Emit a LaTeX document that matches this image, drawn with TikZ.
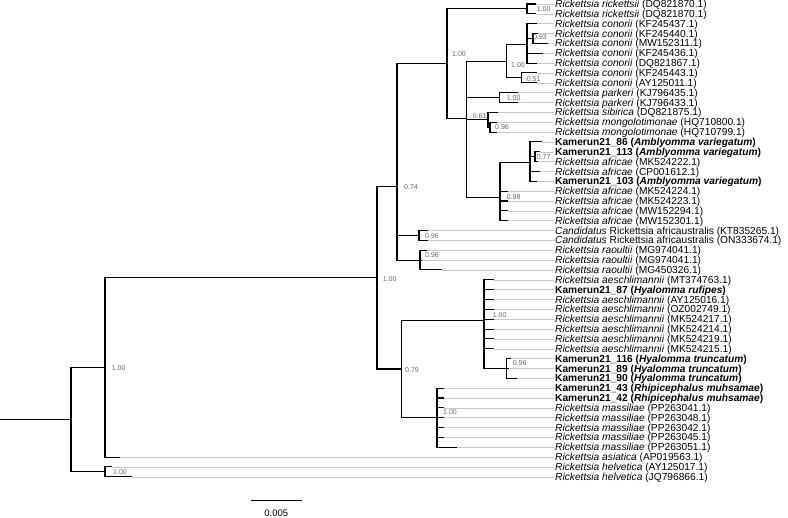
\documentclass[tikz,border=0pt]{standalone}
\usepackage{fontspec}
\setmainfont{Liberation Sans}
\usetikzlibrary{positioning}

\newcommand{\rick}[2]{\textit{Rickettsia #1} (#2)}
\newcommand{\kam}[2]{\textbf{Kamerun21\_#1 (\textit{#2})}}

\begin{document}
\begin{tikzpicture}[
  x=1pt, y=-1pt,
  branch/.style={draw=black, line width=1.05pt},
  leader/.style={draw=black!22, line width=0.4pt, shorten >=1.5pt},
  taxon/.style={anchor=base west, inner sep=0pt, font=\fontsize{10.2}{11}\selectfont},
  support/.style={anchor=west, inner sep=0pt, text=black!60, font=\fontsize{7}{8}\selectfont}
]
  \useasboundingbox (0,0) rectangle (788,518);

  % tips and taxon names
  \foreach \tx/\lab [count=\i] in {
    536/{\rick{rickettsii}{DQ821870.1}},
    536/{\rick{rickettsii}{DQ821870.1}},
    537/{\rick{conorii}{KF245437.1}},
    538/{\rick{conorii}{KF245440.1}},
    548/{\rick{conorii}{MW152311.1}},
    543/{\rick{conorii}{KF245436.1}},
    537/{\rick{conorii}{DQ821867.1}},
    537/{\rick{conorii}{KF245443.1}},
    537/{\rick{conorii}{AY125011.1}},
    518/{\rick{parkeri}{KJ796435.1}},
    518/{\rick{parkeri}{KJ796433.1}},
    498/{\rick{sibirica}{DQ821875.1}},
    497/{\rick{mongolotimonae}{HQ710800.1}},
    497/{\rick{mongolotimonae}{HQ710799.1}},
    542/{\kam{86}{Amblyomma variegatum}},
    540/{\kam{113}{Amblyomma variegatum}},
    538/{\rick{africae}{MK524222.1}},
    540/{\rick{africae}{CP001612.1}},
    537/{\kam{103}{Amblyomma variegatum}},
    508/{\rick{africae}{MK524224.1}},
    508/{\rick{africae}{MK524223.1}},
    508/{\rick{africae}{MW152294.1}},
    508/{\rick{africae}{MW152301.1}},
    428/{\textit{Candidatus} Rickettsia africaustralis (KT835265.1)},
    428/{\textit{Candidatus} Rickettsia africaustralis (ON333674.1)},
    427/{\rick{raoultii}{MG974041.1}},
    422/{\rick{raoultii}{MG974041.1}},
    442/{\rick{raoultii}{MG450326.1}},
    494/{\rick{aeschlimannii}{MT374763.1}},
    494/{\kam{87}{Hyalomma rufipes}},
    494/{\rick{aeschlimannii}{AY125016.1}},
    494/{\rick{aeschlimannii}{OZ002749.1}},
    494/{\rick{aeschlimannii}{MK524217.1}},
    494/{\rick{aeschlimannii}{MK524214.1}},
    494/{\rick{aeschlimannii}{MK524219.1}},
    494/{\rick{aeschlimannii}{MK524215.1}},
    511/{\kam{116}{Hyalomma truncatum}},
    509/{\kam{89}{Hyalomma truncatum}},
    517/{\kam{90}{Hyalomma truncatum}},
    444/{\kam{43}{Rhipicephalus muhsamae}},
    444/{\kam{42}{Rhipicephalus muhsamae}},
    444/{\rick{massiliae}{PP263041.1}},
    444/{\rick{massiliae}{PP263048.1}},
    444/{\rick{massiliae}{PP263042.1}},
    444/{\rick{massiliae}{PP263045.1}},
    457/{\rick{massiliae}{PP263051.1}},
    120/{\rick{asiatica}{AP019563.1}},
    112/{\rick{helvetica}{AY125017.1}},
    132/{\rick{helvetica}{JQ796866.1}}%
  }{
    \coordinate (tip\i) at (\tx, {4+(\i-1)*9.85});
    \node[taxon] (lab\i) at (555, {7.6+(\i-1)*9.85}) {\lab};
    \draw[leader] (tip\i) -- (tip\i -| lab\i.west);
  }

  % internal nodes
  \coordinate (rk) at (527, 8.93);
  \coordinate (c45) at (533, 38.48);
  \coordinate (cp) at (527, 44.63);
  \coordinate (cq) at (521.7, 77.88);
  \coordinate (co) at (506.7, 61.26);
  \coordinate (pk) at (499.3, 97.58);
  \coordinate (mg) at (490, 127.13);
  \coordinate (sm) at (488, 119.74);
  \coordinate (ks) at (535, 156.68);
  \coordinate (kk) at (530, 162.83);
  \coordinate (af) at (500, 197.31);
  \coordinate (sfg) at (466.7, 118.97);
  \coordinate (n1) at (447, 63.95);
  \coordinate (ca) at (419, 235.48);
  \coordinate (ra) at (420, 260.10);
  \coordinate (c) at (397, 186.51);
  \coordinate (tt) at (506.7, 368.45);
  \coordinate (e) at (484, 320.29);
  \coordinate (m) at (437, 417.70);
  \coordinate (d) at (401.5, 369.0);
  \coordinate (b) at (377, 277.75);
  \coordinate (a) at (105, 367.43);
  \coordinate (h) at (105, 471.88);
  \coordinate (rt) at (71, 419.65);
  \coordinate (stub) at (0, 419.65);

  % branches
  \draw[branch] (stub) -- (rt);
  \draw[branch] (rt) |- (a) (rt) |- (h);
  \draw[branch] (h) |- (tip48) (h) |- (tip49);
  \draw[branch] (a) |- (b) (a) |- (tip47);
  \draw[branch] (b) |- (c) (b) |- (d);
  \draw[branch] (c) |- (n1) (c) |- (ca) (c) |- (ra);
  \draw[branch] (n1) |- (rk) (n1) |- (sfg);
  \draw[branch] (rk) |- (tip1) (rk) |- (tip2);
  \draw[branch] (sfg) |- (co) (sfg) |- (pk) (sfg) |- (sm) (sfg) |- (af);
  \draw[branch] (co) |- (cp) (co) |- (cq);
  \draw[branch] (cp) |- (tip3) (cp) |- (c45) (cp) |- (tip6) (cp) |- (tip7);
  \draw[branch] (c45) |- (tip4) (c45) |- (tip5);
  \draw[branch] (cq) |- (tip8) (cq) |- (tip9);
  \draw[branch] (pk) |- (tip10) (pk) |- (tip11);
  \draw[branch] (sm) |- (tip12) (sm) |- (mg);
  \draw[branch] (mg) |- (tip13) (mg) |- (tip14);
  \draw[branch] (af) |- (kk);
  \foreach \j in {20,...,23} \draw[branch] (af) |- (tip\j);
  \draw[branch] (kk) |- (tip15) (kk) |- (ks) (kk) |- (tip18) (kk) |- (tip19);
  \draw[branch] (ks) |- (tip16) (ks) |- (tip17);
  \draw[branch] (ca) |- (tip24) (ca) |- (tip25);
  \foreach \j in {26,...,28} \draw[branch] (ra) |- (tip\j);
  \draw[branch] (d) |- (e) (d) |- (m);
  \foreach \j in {29,...,36} \draw[branch] (e) |- (tip\j);
  \draw[branch] (e) |- (tt);
  \foreach \j in {37,...,39} \draw[branch] (tt) |- (tip\j);
  \foreach \j in {40,...,46} \draw[branch] (m) |- (tip\j);

  % posterior values
  \node[support] (sa) at (111.7, 367.7) {1.00};
  \node[support] (sh) at (113, 471.7) {1.00};
  \node[support] (sb) at (382.7, 279) {1.00};
  \node[support] (sc) at (404, 187) {0.74};
  \node[support] (sn1) at (452, 54) {1.00};
  \node[support] (srk) at (536.7, 9.3) {1.00};
  \node[support] (sco) at (511, 65) {1.00};
  \node[support] (sc45) at (533, 37.3) {0.93};
  \node[support] (scq) at (526.7, 79) {0.51};
  \node[support] (spk) at (506.7, 98.3) {1.00};
  \node[support] (ssm) at (472.7, 116) {0.61};
  \node[support] (smg) at (495, 126.7) {0.96};
  \node[support] (sks) at (536.7, 157.3) {0.77};
  \node[support] (saf) at (506.7, 196.7) {0.98};
  \node[support] (sca) at (425, 235.7) {0.96};
  \node[support] (sra) at (425, 255) {0.96};
  \node[support] (se) at (492.7, 315) {1.00};
  \node[support] (stt) at (512.7, 363.3) {0.96};
  \node[support] (sd) at (405, 370) {0.79};
  \node[support] (sm1) at (443, 412.3) {1.00};

  % scale bar
  \coordinate (sbl) at (251, 500.7);
  \coordinate (sbr) at (301.5, 500.7);
  \draw[branch, line width=1.3pt] (sbl) -- (sbr);
  \node[font=\fontsize{9.5}{10}\selectfont] (sbtext) at (276.25, 513) {0.005};
\end{tikzpicture}
\end{document}
